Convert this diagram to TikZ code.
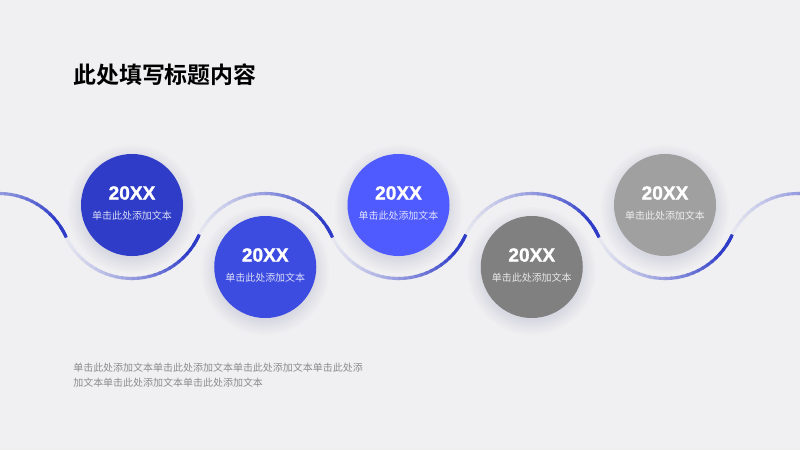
\documentclass[tikz,border=0pt]{standalone}
\usepackage{fontspec}
\setmainfont{Liberation Sans}
\newfontfamily\heavy[BoldFeatures={FakeBold=1.3}]{Liberation Sans}
\newfontfamily\cjk[BoldFont={Noto Sans CJK SC Bold}]{Noto Sans CJK SC}
\usepackage{tikz}
\definecolor{bgcol}{HTML}{F0F0F2}
\definecolor{wavedark}{HTML}{2E3CC8}
\definecolor{cone}{HTML}{2E3CC8}
\definecolor{ctwo}{HTML}{3C4BE0}
\definecolor{cthree}{HTML}{4F5BFF}
\definecolor{cfour}{HTML}{808080}
\definecolor{cfive}{HTML}{A0A0A0}
\definecolor{bodygray}{HTML}{8C8C8C}

\begin{document}
\begin{tikzpicture}[x=0.025cm, y=0.025cm,
    dot/.style={circle, minimum size=2.55cm, inner sep=0pt},
    yearlab/.style={text=white, inner sep=0pt,
                    font=\heavy\bfseries\fontsize{13.6}{16}\selectfont},
    sublab/.style={inner sep=0pt, font=\cjk\fontsize{7.1}{9}\selectfont}]
  % the page
  \fill[bgcol] (0,0) rectangle (800,450);
  \useasboundingbox (0,0) rectangle (800,450);
  % title
  \node[anchor=west, inner sep=0pt, font=\cjk\bfseries\fontsize{16.3}{20}\selectfont]
    (title) at (73,375) {此处填写标题内容};
  % the wave: one arc round each dot, light at the start, dark at the end
  \begin{scope}
    \clip (0,0) rectangle (800,450);
    \foreach \cx/\cy/\sa/\ea in {798/183/155/25, 665/245/205/335,
                                 531.75/183/155/25, 398.5/245/205/335,
                                 265.25/183/155/25, 132/245/205/335,
                                 -1/183/155/25}{
      \foreach \i in {0,...,29}{
        \pgfmathsetmacro{\a}{\sa+(\ea-\sa)*\i/30}
        \pgfmathsetmacro{\b}{\sa+(\ea-\sa)*(\i+1.3)/30}
        \pgfmathsetmacro{\p}{min(100,5+95*(\i/26)^1.4)}
        \draw[wavedark!\p!bgcol, line width=2.2pt]
          (\cx,\cy) ++(\a:73.5) arc[start angle=\a, end angle=\b, radius=73.5];
      }
      \pgfmathsetmacro{\c}{\ea-(\ea-\sa)*0.06}
      \draw[wavedark, line width=2.2pt, line cap=round]
        (\cx,\cy) ++(\c:73.5) arc[start angle=\c, end angle=\ea, radius=73.5];
    }
  \end{scope}
  % the dots, each with a soft shadow
  \foreach \n/\x/\y/\col in {1/132/245/cone, 2/265.25/183/ctwo,
                             3/398.5/245/cthree, 4/531.75/183/cfour,
                             5/665/245/cfive}{
    \foreach \r in {64,62,...,50}{
      \fill[black!60!blue, opacity=0.012] (\x,\y-4) circle (\r);}
    \node[dot, fill=\col] (c\n) at (\x,\y) {};
    \node[yearlab] (y\n) at ([yshift=0.3cm]c\n.center) {20XX};
    \node[sublab, text=white!82!\col] (s\n) at ([yshift=-0.275cm]c\n.center)
      {单击此处添加文本};
  }
  % text below
  \node[anchor=north west, align=left, inner sep=0pt, text=bodygray,
        font=\cjk\fontsize{7.1}{10.6}\selectfont] (body) at (73,87)
    {单击此处添加文本单击此处添加文本单击此处添加文本单击此处添\\
     加文本单击此处添加文本单击此处添加文本};
\end{tikzpicture}
\end{document}
